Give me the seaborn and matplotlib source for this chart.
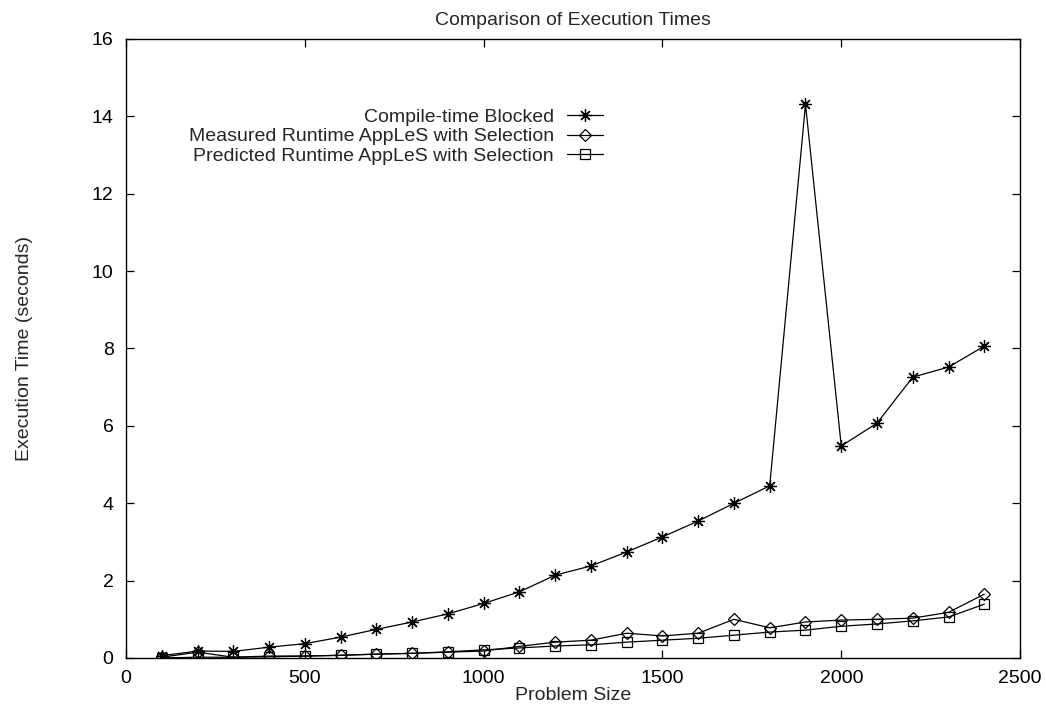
import matplotlib
matplotlib.use("Agg")
import matplotlib.pyplot as plt
import seaborn as sns
import pandas as pd

# Problem sizes and measured execution times (seconds)
problem_size = [100, 200, 300, 400, 500, 600, 700, 800, 900, 1000, 1100, 1200,
                1300, 1400, 1500, 1600, 1700, 1800, 1900, 2000, 2100, 2200, 2300, 2400]
compile_time_blocked = [0.06, 0.18, 0.17, 0.28, 0.37, 0.54, 0.74, 0.93, 1.14, 1.41, 1.71, 2.14,
                        2.38, 2.74, 3.13, 3.54, 4.00, 4.45, 14.31, 5.48, 6.07, 7.26, 7.52, 8.06]
measured_apples = [0.02, 0.15, 0.02, 0.05, 0.05, 0.07, 0.10, 0.12, 0.15, 0.18, 0.30, 0.41,
                   0.46, 0.64, 0.57, 0.64, 1.00, 0.78, 0.93, 0.98, 1.00, 1.03, 1.18, 1.65]
predicted_apples = [0.00, 0.02, 0.02, 0.03, 0.05, 0.07, 0.10, 0.12, 0.16, 0.21, 0.26, 0.31,
                    0.34, 0.41, 0.46, 0.51, 0.59, 0.67, 0.72, 0.82, 0.88, 0.96, 1.06, 1.39]

series_labels = ["Compile-time Blocked",
                 "Measured Runtime AppLeS with Selection",
                 "Predicted Runtime AppLeS with Selection"]

sns.set_style("ticks")
plt.rcParams["font.family"] = ["Liberation Sans", "DejaVu Sans"]
plt.rcParams["font.size"] = 14

fig = plt.figure(figsize=(10.46, 7.06), dpi=100)
ax = fig.add_axes([0.1205, 0.068, 0.8547, 0.8768])

styles = [
    dict(marker=(8, 2, 0), markersize=9, mfc="none"),
    dict(marker="D", markersize=6.5, mfc="none"),
    dict(marker="s", markersize=7, mfc="none"),
]
for values, label, st in zip([compile_time_blocked, measured_apples, predicted_apples],
                             series_labels, styles):
    df = pd.DataFrame({"Problem Size": problem_size, "Time": values})
    sns.lineplot(data=df, x="Problem Size", y="Time", ax=ax, color="black",
                 linewidth=0.9, label=label, mec="black", mew=0.9, **st)

ax.set_xlim(0, 2500)
ax.set_ylim(0, 16)
ax.set_xticks(range(0, 2501, 500))
ax.set_yticks(range(0, 17, 2))
ax.tick_params(direction="in", top=True, right=True, length=6, width=0.9,
               labelsize=14, colors="black")
ax.tick_params(axis="x", pad=9)
ax.tick_params(axis="y", pad=9)
for sp in ax.spines.values():
    sp.set_visible(True)
    sp.set_linewidth(1.0)
    sp.set_color("black")

ax.set_xlabel("Problem Size", fontsize=14)
ax.set_ylabel("Execution Time (seconds)", fontsize=14)
ax.xaxis.set_label_coords(0.5, -0.047)
ax.yaxis.set_label_coords(-0.104, 0.5)
ax.set_title("Comparison of Execution Times", fontsize=14, pad=10)

leg = ax.legend(loc="upper right", bbox_to_anchor=(0.534, 0.888), frameon=False,
                markerfirst=False, handlelength=1.9, handletextpad=0.65,
                labelspacing=0.1, fontsize=14, borderaxespad=0, borderpad=0)
leg._legend_box.align = "right"

fig.savefig("out.png", dpi=100)
